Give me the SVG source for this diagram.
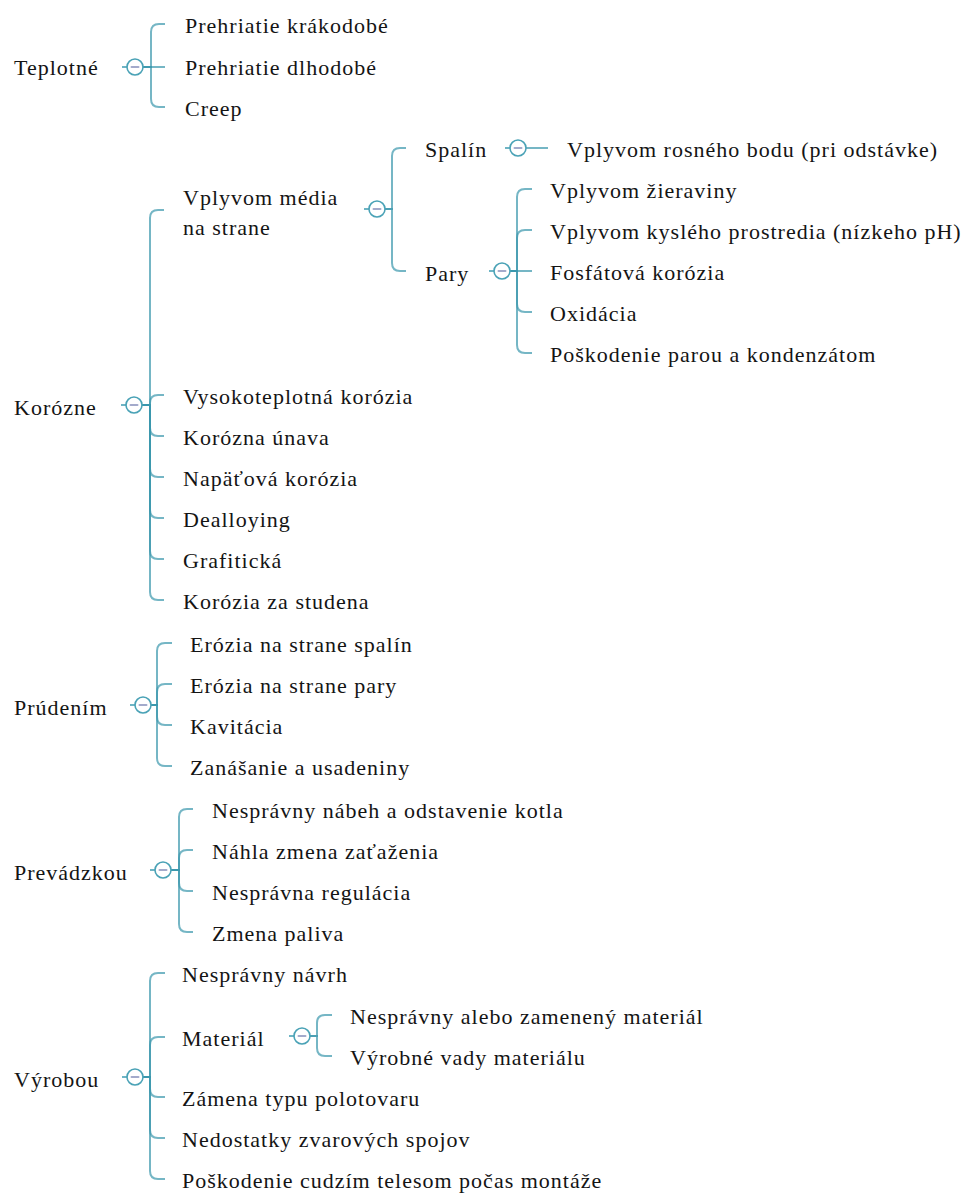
<svg xmlns="http://www.w3.org/2000/svg" width="980" height="1194" viewBox="0 0 980 1194" font-family="Liberation Serif, Times New Roman, serif">
<style>
text{font-size:22px;fill:#141414;letter-spacing:1px}
.c path{fill:none;stroke:#3a97ad;stroke-width:2;stroke-opacity:0.7}
.k circle{fill:#fff;stroke:#4aa2b6;stroke-width:1.6}
.k rect{fill:#a3aacb}
.k line{stroke:#4aa2b6;stroke-width:1.6}
</style>
<rect width="980" height="1194" fill="#fff"/>
<g id="connectors" class="c">
<path d="M143,67 H151 V32 Q151,24 159,24 H165"/>
<path d="M143,67 H165"/>
<path d="M143,67 H151 V99 Q151,107 159,107 H165"/>
<path d="M142,405 H150 V218 Q150,210 158,210 H164"/>
<path d="M142,405 H150 V403 Q150,395 158,395 H164"/>
<path d="M142,405 H150 V428 Q150,436 158,436 H164"/>
<path d="M142,405 H150 V469 Q150,477 158,477 H164"/>
<path d="M142,405 H150 V510 Q150,518 158,518 H164"/>
<path d="M142,405 H150 V551 Q150,559 158,559 H164"/>
<path d="M142,405 H150 V592 Q150,600 158,600 H164"/>
<path d="M385,209 H392 V156 Q392,148 400,148 H406"/>
<path d="M385,209 H392 V263 Q392,271 400,271 H406"/>
<path d="M526,148 H548"/>
<path d="M510,271 H517 V197 Q517,189 525,189 H532"/>
<path d="M510,271 H517 V238 Q517,230 525,230 H532"/>
<path d="M510,271 H532"/>
<path d="M510,271 H517 V304 Q517,312 525,312 H532"/>
<path d="M510,271 H517 V345 Q517,353 525,353 H532"/>
<path d="M151,705 H157 V651 Q157,643 165,643 H172"/>
<path d="M151,705 H157 V692 Q157,684 165,684 H172"/>
<path d="M151,705 H157 V717 Q157,725 165,725 H172"/>
<path d="M151,705 H157 V758 Q157,766 165,766 H172"/>
<path d="M171,870 H179 V817 Q179,809 187,809 H193"/>
<path d="M171,870 H179 V858 Q179,850 187,850 H193"/>
<path d="M171,870 H179 V883 Q179,891 187,891 H193"/>
<path d="M171,870 H179 V924 Q179,932 187,932 H193"/>
<path d="M143,1077 H150 V981 Q150,973 158,973 H165"/>
<path d="M143,1077 H150 V1045 Q150,1037 158,1037 H165"/>
<path d="M143,1077 H150 V1089 Q150,1097 158,1097 H165"/>
<path d="M143,1077 H150 V1130 Q150,1138 158,1138 H165"/>
<path d="M143,1077 H150 V1171 Q150,1179 158,1179 H165"/>
<path d="M310,1036 H317 V1023 Q317,1015 325,1015 H332"/>
<path d="M310,1036 H317 V1048 Q317,1056 325,1056 H332"/>
</g>
<defs>
<g id="tog" class="k">
<line x1="-13" y1="0" x2="-8" y2="0"/>
<circle r="8"/>
<rect x="-4.5" y="-1" width="9" height="2" rx="1"/>
</g>
</defs>
<g id="n-teplotne"><text x="14" y="75">Teplotné</text><use href="#tog" x="135" y="67"/></g>
<g id="n-t1"><text x="185" y="33">Prehriatie krákodobé</text></g>
<g id="n-t2"><text x="185" y="75">Prehriatie dlhodobé</text></g>
<g id="n-t3"><text x="185" y="116">Creep</text></g>

<g id="n-korozne"><text x="14" y="415">Korózne</text><use href="#tog" x="134" y="405"/></g>
<g id="n-media"><text x="183" y="205">Vplyvom média</text><text x="183" y="235">na strane</text><use href="#tog" x="377" y="209"/></g>
<g id="n-spalin"><text x="425" y="157">Spalín</text><use href="#tog" x="518" y="148"/></g>
<g id="n-rosny"><text x="567" y="157">Vplyvom rosného bodu (pri odstávke)</text></g>
<g id="n-pary"><text x="425" y="281">Pary</text><use href="#tog" x="502" y="271"/></g>
<g id="n-p1"><text x="550" y="198">Vplyvom žieraviny</text></g>
<g id="n-p2"><text x="550" y="239">Vplyvom kyslého prostredia (nízkeho pH)</text></g>
<g id="n-p3"><text x="550" y="280">Fosfátová korózia</text></g>
<g id="n-p4"><text x="550" y="321">Oxidácia</text></g>
<g id="n-p5"><text x="550" y="362">Poškodenie parou a kondenzátom</text></g>
<g id="n-k2"><text x="183" y="404">Vysokoteplotná korózia</text></g>
<g id="n-k3"><text x="183" y="445">Korózna únava</text></g>
<g id="n-k4"><text x="183" y="486">Napäťová korózia</text></g>
<g id="n-k5"><text x="183" y="527">Dealloying</text></g>
<g id="n-k6"><text x="183" y="568">Grafitická</text></g>
<g id="n-k7"><text x="183" y="609">Korózia za studena</text></g>

<g id="n-prudenim"><text x="14" y="715">Prúdením</text><use href="#tog" x="143" y="705"/></g>
<g id="n-r1"><text x="190" y="652">Erózia na strane spalín</text></g>
<g id="n-r2"><text x="190" y="693">Erózia na strane pary</text></g>
<g id="n-r3"><text x="190" y="734">Kavitácia</text></g>
<g id="n-r4"><text x="190" y="775">Zanášanie a usadeniny</text></g>

<g id="n-prevadzkou"><text x="14" y="880">Prevádzkou</text><use href="#tog" x="163" y="870"/></g>
<g id="n-v1"><text x="212" y="818">Nesprávny nábeh a odstavenie kotla</text></g>
<g id="n-v2"><text x="212" y="859">Náhla zmena zaťaženia</text></g>
<g id="n-v3"><text x="212" y="900">Nesprávna regulácia</text></g>
<g id="n-v4"><text x="212" y="941">Zmena paliva</text></g>

<g id="n-vyrobou"><text x="14" y="1087">Výrobou</text><use href="#tog" x="135" y="1077"/></g>
<g id="n-y1"><text x="182" y="982">Nesprávny návrh</text></g>
<g id="n-material"><text x="182" y="1046">Materiál</text><use href="#tog" x="302" y="1036"/></g>
<g id="n-m1"><text x="350" y="1024">Nesprávny alebo zamenený materiál</text></g>
<g id="n-m2"><text x="350" y="1065">Výrobné vady materiálu</text></g>
<g id="n-y3"><text x="182" y="1106">Zámena typu polotovaru</text></g>
<g id="n-y4"><text x="182" y="1147">Nedostatky zvarových spojov</text></g>
<g id="n-y5"><text x="182" y="1188">Poškodenie cudzím telesom počas montáže</text></g>
</svg>
